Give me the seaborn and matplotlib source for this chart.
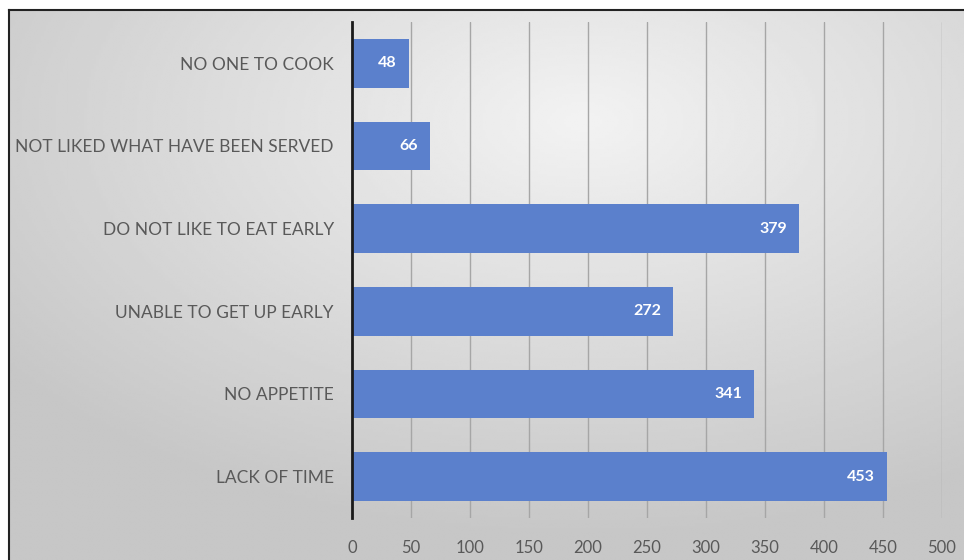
import numpy as np
import pandas as pd
import matplotlib
matplotlib.use("Agg")
import matplotlib.pyplot as plt
import seaborn as sns

categories = ["NO ONE TO COOK", "NOT LIKED WHAT HAVE BEEN SERVED", "DO NOT LIKE TO EAT EARLY",
              "UNABLE TO GET UP EARLY", "NO APPETITE", "LACK OF TIME"]
values = [48, 66, 379, 272, 341, 453]
xticks = [0, 50, 100, 150, 200, 250, 300, 350, 400, 450, 500]

df = pd.DataFrame({"reason": categories, "count": values})

sns.set_theme(style="white")
plt.rcParams['font.family'] = ['Lato', 'DejaVu Sans']

W, H = 964, 560
fig = plt.figure(figsize=(W / 100, H / 100), dpi=100, facecolor="white")

# gradient background panel with border
bg = fig.add_axes([9 / W, 0, 1 - 9 / W, 1 - 10 / H])
yy, xx = np.mgrid[0:200, 0:400]
cx, cy = 240, 40
r = np.sqrt(((xx - cx) / 400) ** 2 + ((yy - cy) / 200) ** 2)
r = np.clip(r / 0.75, 0, 1)
shade = 0.95 - 0.17 * r
bg.imshow(shade, cmap="gray", vmin=0, vmax=1, aspect="auto", extent=[0, 1, 0, 1], interpolation="bilinear")
bg.set_xticks([]); bg.set_yticks([])
for s in ["right", "bottom"]:
    bg.spines[s].set_visible(False)
for s in ["left", "top"]:
    bg.spines[s].set_color("#222222")
    bg.spines[s].set_linewidth(1.5)

ax = fig.add_axes([352 / W, 1 - 518 / H, (942 - 352) / W, (518 - 22) / H])
ax.patch.set_alpha(0)
sns.barplot(data=df, x="count", y="reason", orient="h", color="#5B80CC", saturation=1,
            width=0.59, ax=ax, zorder=3, linewidth=0)
ax.set_xlim(0, 500)
ax.set_ylim(5.5, -0.5)
ax.set_xticks(xticks)
ax.set_xticklabels([str(t) for t in xticks])
for t in xticks[1:]:
    ax.axvline(t, color="#a6a6a6", lw=1, zorder=1)
ax.set_xlabel("")
ax.set_ylabel("")
for s in ["top", "right", "bottom"]:
    ax.spines[s].set_visible(False)
ax.spines["left"].set_color("#1a1a1a")
ax.spines["left"].set_linewidth(2)
ax.spines["left"].set_zorder(4)
ax.tick_params(axis="y", length=0, pad=13, labelsize=12.5, labelcolor="#595959")
ax.tick_params(axis="x", length=0, pad=16, labelsize=12, labelcolor="#595959")

for i, v in enumerate(values):
    ax.text(v - 10, i, str(v), color="white", fontweight="bold", fontsize=11.5,
            ha="right", va="center", zorder=5)

fig.savefig("out.png", dpi=100, facecolor="white")
